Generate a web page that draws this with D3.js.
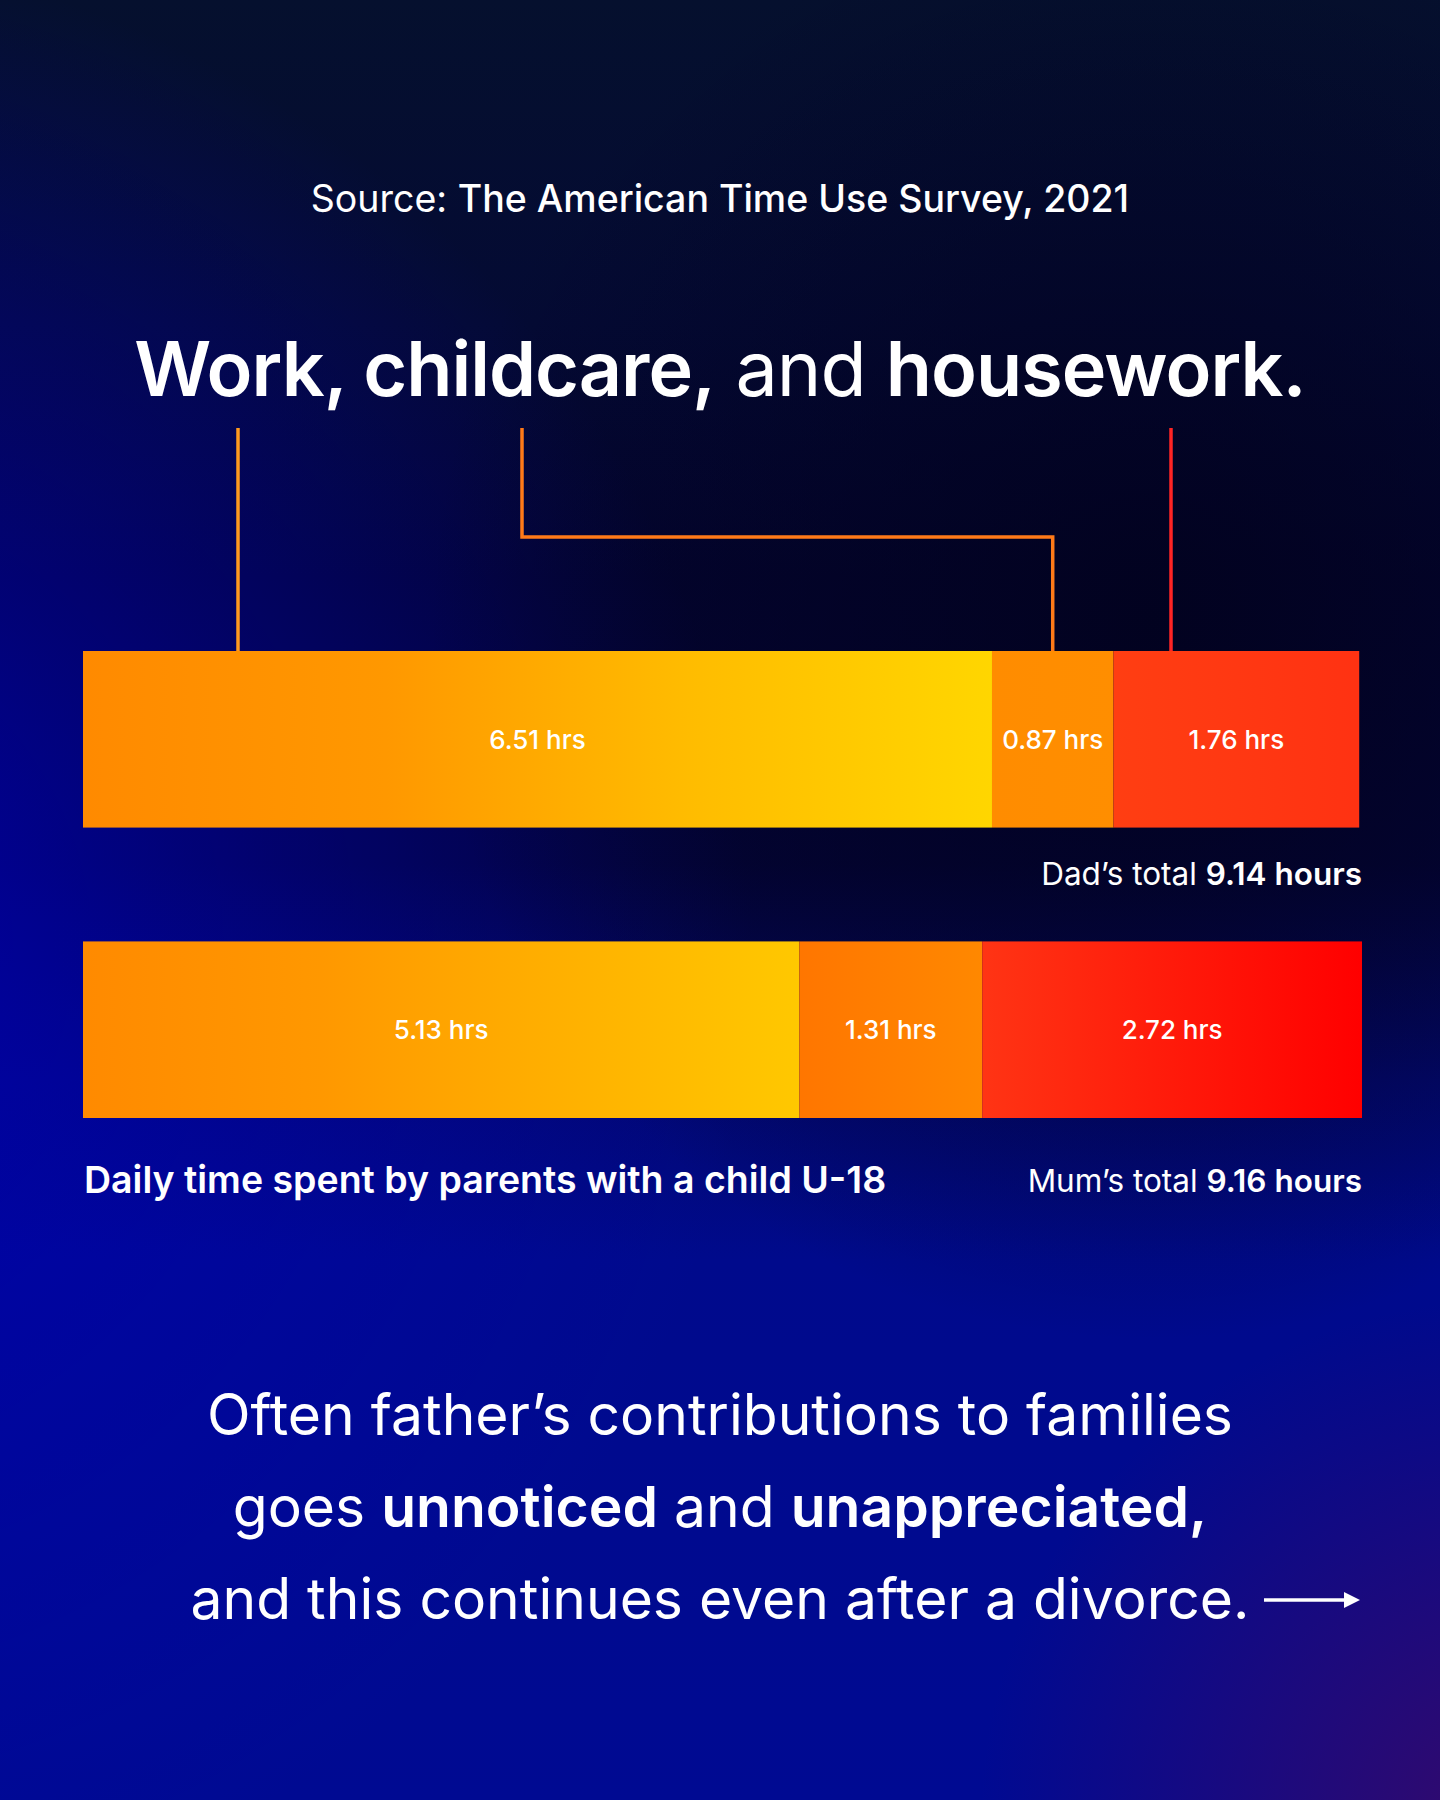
<!DOCTYPE html>
<html>
<head>
<meta charset="utf-8">
<script src="https://cdn.jsdelivr.net/npm/d3@7"></script>
<style>
  html, body { margin: 0; padding: 0; background: #020530; }
  svg { display: block; font-family: Inter, "Noto Sans", sans-serif; }
</style>
</head>
<body>
<div id="chart"></div>
<script>
const W = 1440, H = 1800;

// data
const parents = ["Dad", "Mum"];
const activities = ["Work", "Childcare", "Housework"];
const dadHours = [6.51, 0.87, 1.76];
const mumHours = [5.13, 1.31, 2.72];
const totals = [9.14, 9.16];

const rows = parents.map((p, i) => {
    const vals = i === 0 ? dadHours : mumHours;
    const r = { parent: p, total: totals[i] };
    activities.forEach((a, j) => r[a] = vals[j]);
    return r;
});

// gradient stops per bar segment
const segColors = {
    Dad: {
        Work: ["#ff8a00", "#ff9800", "#ffbc00", "#ffd600"],
        Childcare: ["#ff8c00", "#ff8e00"],
        Housework: ["#ff3e12", "#ff3212"]
    },
    Mum: {
        Work: ["#ff8a00", "#ff9800", "#ffb000", "#ffc800"],
        Childcare: ["#ff7600", "#ff8800"],
        Housework: ["#ff3414", "#ff0000"]
    }
};

const svg = d3.select("#chart")
    .append("svg")
    .attr("width", W)
    .attr("height", H);

const defs = svg.append("defs");

// background layers
const bgBase = defs.append("linearGradient").attr("id", "bgBase")
    .attr("x1", 0).attr("y1", 0).attr("x2", 0).attr("y2", 1);
[[0, "#05102e"], [0.18, "#040a34"], [0.32, "#030430"], [0.48, "#030438"], [0.6, "#020870"], [0.7, "#000a8c"], [1, "#000a92"]]
    .forEach(s => bgBase.append("stop").attr("offset", s[0]).attr("stop-color", s[1]));

function radial(id, cx, cy, r, color, op) {
    const g = defs.append("radialGradient").attr("id", id)
        .attr("gradientUnits", "userSpaceOnUse")
        .attr("cx", cx).attr("cy", cy).attr("r", r);
    g.append("stop").attr("offset", 0).attr("stop-color", color).attr("stop-opacity", op);
    g.append("stop").attr("offset", 1).attr("stop-color", color).attr("stop-opacity", 0);
}
radial("glowLeft", -250, 950, 1000, "#0000b0", 0.95);
radial("darkRight", 1150, 620, 720, "#02021e", 0.9);
radial("purple", 1500, 1820, 520, "#3c0a66", 0.85);

svg.append("rect").attr("width", W).attr("height", H).attr("fill", "url(#bgBase)");
svg.append("rect").attr("width", W).attr("height", H).attr("fill", "url(#glowLeft)");
svg.append("rect").attr("width", W).attr("height", H).attr("fill", "url(#darkRight)");
svg.append("rect").attr("width", W).attr("height", H).attr("fill", "url(#purple)");

// scales
const x = d3.scaleLinear()
    .domain([0, d3.max(totals)])
    .range([83, 1362]);

const y = d3.scaleBand()
    .domain(parents)
    .range([651, 1118])
    .paddingInner(0.392);

const stack = d3.stack().keys(activities);
const series = stack(rows);

// segment gradients
parents.forEach(p => activities.forEach(a => {
    const g = defs.append("linearGradient").attr("id", `g-${p}-${a}`)
        .attr("x1", 0).attr("y1", 0).attr("x2", 1).attr("y2", 0);
    const cols = segColors[p][a];
    cols.forEach((c, k) => g.append("stop")
        .attr("offset", k / (cols.length - 1))
        .attr("stop-color", c));
}));

// header texts
const source = svg.append("text")
    .attr("x", W / 2)
    .attr("y", 212)
    .attr("text-anchor", "middle")
    .style("font-size", "37.5px")
    .style("fill", "#fff");
source.append("tspan").style("font-weight", 400).text("Source: ");
source.append("tspan").style("font-weight", 500).text("The American Time Use Survey, 2021");

const title = svg.append("text")
    .attr("x", W / 2)
    .attr("y", 396)
    .attr("text-anchor", "middle")
    .style("font-size", "75.5px")
    .style("letter-spacing", "-1px")
    .style("fill", "#fff");
title.append("tspan").style("font-weight", 600).text("Work, childcare,");
title.append("tspan").style("font-weight", 400).text(" and ");
title.append("tspan").style("font-weight", 600).text("housework.");

// connectors from title words down to dad's bar
const barTop = y("Dad");
const connectors = [
    { color: "#ff9a1e", pts: [[238, 428], [238, barTop]] },
    { color: "#ff7a18", pts: [[522, 428], [522, 537], [x(dadHours[0] + dadHours[1] / 2), 537], [x(dadHours[0] + dadHours[1] / 2), barTop]] },
    { color: "#ff2424", pts: [[1171, 428], [1171, barTop]] }
];
svg.selectAll(".connector")
    .data(connectors)
    .enter()
    .append("path")
    .attr("class", "connector")
    .attr("d", d => d3.line()(d.pts))
    .attr("fill", "none")
    .attr("stroke", d => d.color)
    .attr("stroke-width", 3.5);

// bars
const layer = svg.selectAll(".layer")
    .data(series)
    .enter()
    .append("g")
    .attr("class", "layer");

layer.selectAll("rect")
    .data(d => d.map(v => ({ key: d.key, v })))
    .enter()
    .append("rect")
    .attr("x", d => x(d.v[0]))
    .attr("y", d => y(d.v.data.parent))
    .attr("width", d => x(d.v[1]) - x(d.v[0]))
    .attr("height", y.bandwidth())
    .attr("fill", d => `url(#g-${d.v.data.parent}-${d.key})`);

layer.selectAll("text")
    .data(d => d.map(v => ({ key: d.key, v })))
    .enter()
    .append("text")
    .attr("x", d => (x(d.v[0]) + x(d.v[1])) / 2)
    .attr("y", d => y(d.v.data.parent) + y.bandwidth() / 2)
    .attr("text-anchor", "middle")
    .attr("dominant-baseline", "central")
    .style("font-size", "26px")
    .style("font-weight", 500)
    .style("fill", "#fff")
    .text(d => `${(d.v[1] - d.v[0]).toFixed(2)} hrs`);

// totals (dad's sits a little closer to its bar than mum's)
const totalGap = { Dad: 57, Mum: 74 };
const totalText = svg.selectAll(".total")
    .data(rows)
    .enter()
    .append("text")
    .attr("class", "total")
    .attr("x", x.range()[1])
    .attr("y", d => y(d.parent) + y.bandwidth() + totalGap[d.parent])
    .attr("text-anchor", "end")
    .style("font-size", "31.5px")
    .style("fill", "#fff");
totalText.append("tspan").style("font-weight", 400).text(d => `${d.parent}\u2019s total `);
totalText.append("tspan").style("font-weight", 600).text(d => `${d.total.toFixed(2)} hours`);

svg.append("text")
    .attr("x", 84)
    .attr("y", y("Mum") + y.bandwidth() + 75)
    .style("font-size", "37.5px")
    .style("font-weight", 600)
    .style("fill", "#fff")
    .text("Daily time spent by parents with a child U-18");

// closing statement
const lines = [
    [["Often father\u2019s contributions to families", 400]],
    [["goes ", 400], ["unnoticed", 600], [" and ", 400], ["unappreciated,", 600]],
    [["and this continues even after a divorce.", 400]]
];
lines.forEach((ln, i) => {
    const t = svg.append("text")
        .attr("x", W / 2)
        .attr("y", 1435 + i * 92)
        .attr("text-anchor", "middle")
        .style("font-size", "57px")
        .style("fill", "#fff");
    ln.forEach(s => t.append("tspan").style("font-weight", s[1]).text(s[0]));
});

// arrow after the last line
const arrowY = 1600;
svg.append("line")
    .attr("x1", 1264).attr("x2", 1348)
    .attr("y1", arrowY).attr("y2", arrowY)
    .attr("stroke", "#fff")
    .attr("stroke-width", 3.5);
svg.append("path")
    .attr("d", `M1360,${arrowY} L1344,${arrowY - 8} L1344,${arrowY + 8} Z`)
    .attr("fill", "#fff");
</script>
</body>
</html>
